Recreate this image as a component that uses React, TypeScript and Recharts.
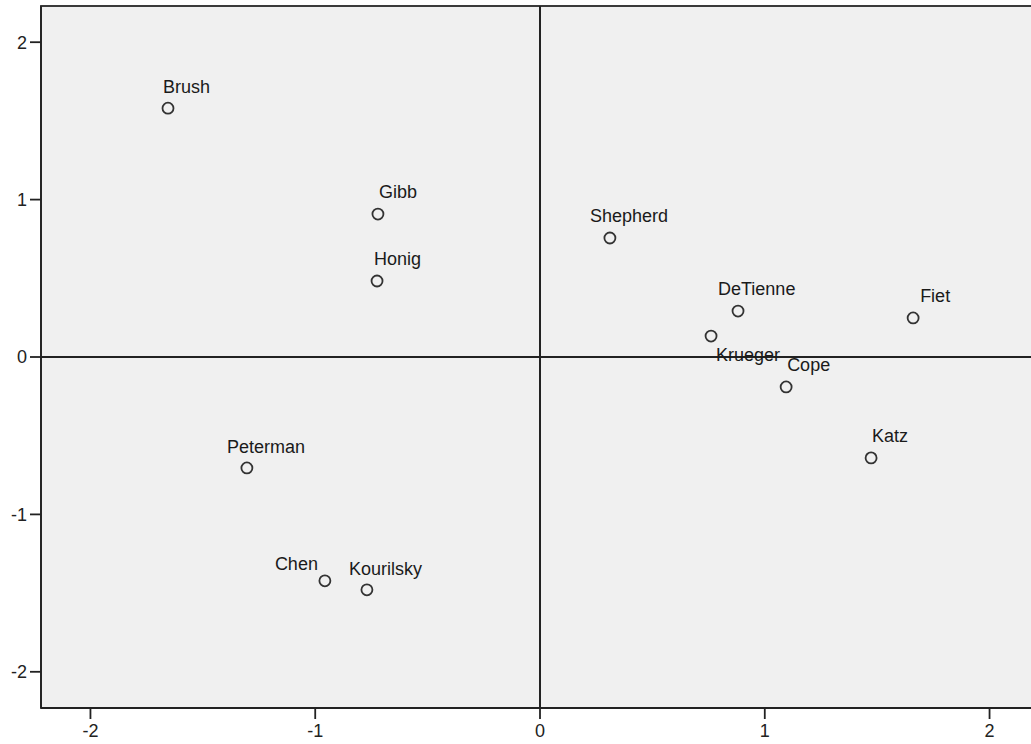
import React from 'react';
import {
  ScatterChart,
  Scatter,
  XAxis,
  YAxis,
  ReferenceLine,
  ReferenceArea,
} from 'recharts';

// Object points
const names = [
  'Brush', 'Gibb', 'Honig', 'Shepherd', 'DeTienne', 'Krueger',
  'Fiet', 'Cope', 'Katz', 'Peterman', 'Chen', 'Kourilsky',
];
const dim1 = [-1.655, -0.721, -0.725, 0.311, 0.881, 0.761, 1.66, 1.095, 1.473, -1.304, -0.957, -0.77];
const dim2 = [1.581, 0.908, 0.483, 0.756, 0.292, 0.133, 0.248, -0.19, -0.641, -0.705, -1.422, -1.479];
const ticks = [-2, -1, 0, 1, 2];

const data = names.map((name, i) => ({ name, x: dim1[i], y: dim2[i] }));

// label nudges (dx from point centre to text start, dy to baseline)
const labelNudge: Record<string, [number, number]> = {
  Brush: [-5, -15],
  Gibb: [1, -16],
  Honig: [-3, -16],
  Shepherd: [-20, -16],
  DeTienne: [-20, -16],
  Krueger: [5, 25],
  Fiet: [7, -16],
  Cope: [1, -16],
  Katz: [1, -16],
  Peterman: [-20, -15],
  Chen: [-50, -11],
  Kourilsky: [-18, -15],
};

const font = 'Arial, "Liberation Sans", sans-serif';

function Point(props: any) {
  const { cx, cy, payload } = props;
  const [dx, dy] = labelNudge[payload.name] || [0, -15];
  return (
    <g>
      <circle cx={cx} cy={cy} r={5.5} fill="#f0f0f0" stroke="#333" strokeWidth={1.8} />
      <text x={cx + dx} y={cy + dy} fontSize={18} fontFamily={font} fill="#1a1a1a">
        {payload.name}
      </text>
    </g>
  );
}

export default function App() {
  return (
    <div style={{ position: 'absolute', left: 0, top: 0, width: 1031, height: 744, overflow: 'hidden', background: '#fff' }}>
      <ScatterChart width={1039} height={744} margin={{ top: 6, right: 0, bottom: 0, left: 0 }}>
        <ReferenceArea
          x1={-2.22}
          x2={2.22}
          y1={-2.23}
          y2={2.23}
          fill="#f0f0f0"
          fillOpacity={1}
          stroke="#3a3a3a"
          strokeWidth={1.8}
          ifOverflow="visible"
        />
        <XAxis
          type="number"
          dataKey="x"
          domain={[-2.22, 2.22]}
          ticks={ticks}
          height={36}
          tickSize={11}
          tickMargin={5}
          stroke="#222"
          tick={{ fill: '#222', fontSize: 18, fontFamily: font }}
          tickLine={{ stroke: '#222', strokeWidth: 1.8 }}
          axisLine={{ stroke: '#222', strokeWidth: 1.8 }}
        />
        <YAxis
          type="number"
          dataKey="y"
          domain={[-2.23, 2.23]}
          ticks={ticks}
          width={41}
          tickSize={11}
          tickMargin={3}
          stroke="#222"
          tick={{ fill: '#222', fontSize: 18, fontFamily: font }}
          tickLine={{ stroke: '#222', strokeWidth: 1.8 }}
          axisLine={{ stroke: '#222', strokeWidth: 1.8 }}
        />
        <ReferenceLine x={0} stroke="#222" strokeWidth={2} />
        <ReferenceLine y={0} stroke="#222" strokeWidth={2} />
        <Scatter data={data} shape={<Point />} isAnimationActive={false} />
      </ScatterChart>
    </div>
  );
}
